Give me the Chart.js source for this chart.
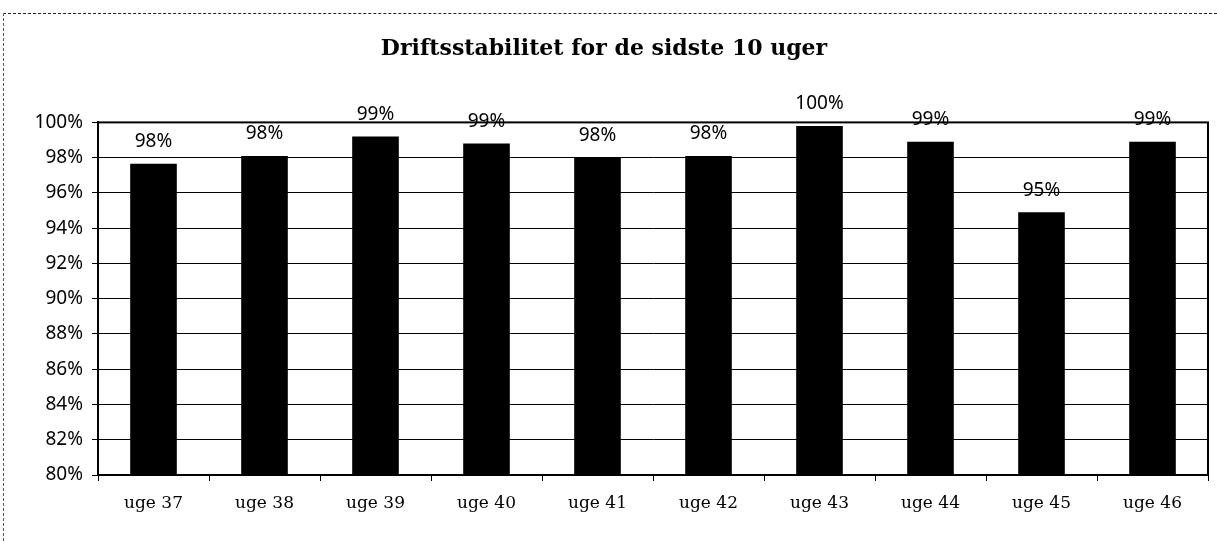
<!DOCTYPE html>
<html>
<head>
<meta charset="utf-8">
<script src="https://cdn.jsdelivr.net/npm/chart.js@4.4.1/dist/chart.umd.min.js"></script>
<style>
  html, body { margin: 0; padding: 0; background: #fff; }
  #wrap { position: relative; width: 1217px; height: 541px; }
  #frame { position: absolute; left: 3px; top: 13px; width: 1214px; height: 528px;
           border-top: 1px dashed #222; border-left: 1px dashed #555; box-sizing: border-box; pointer-events: none; }
  canvas { position: absolute; left: 0; top: 0; }
</style>
</head>
<body>
<div id="wrap">
  <canvas id="c" width="1217" height="541"></canvas>
  <div id="frame"></div>
</div>
<script>
const categories = ["uge 37", "uge 38", "uge 39", "uge 40", "uge 41", "uge 42", "uge 43", "uge 44", "uge 45", "uge 46"];
const stability = [97.65, 98.1, 99.2, 98.8, 98.0, 98.1, 99.8, 98.9, 94.9, 98.9];
const yMin = 80, yMax = 100, yStep = 2;
const titleText = "Driftsstabilitet for de sidste 10 uger";

const labelPlugin = {
  id: 'barLabels',
  afterDatasetsDraw(chart) {
    const ctx = chart.ctx;
    const meta = chart.getDatasetMeta(0);
    ctx.save();
    ctx.font = '19px "Noto Sans"';
    ctx.fillStyle = '#000';
    ctx.textAlign = 'center';
    ctx.textBaseline = 'middle';
    meta.data.forEach((bar, i) => {
      ctx.fillText(Math.round(stability[i]) + '%', bar.x, bar.y - 22);
    });
    ctx.restore();
  }
};
const borderPlugin = {
  id: 'plotBorder',
  afterDraw(chart) {
    const a = chart.chartArea, ctx = chart.ctx;
    ctx.save();
    ctx.strokeStyle = '#000';
    ctx.lineWidth = 2;
    ctx.strokeRect(a.left, a.top, a.right - a.left, a.bottom - a.top);
    ctx.restore();
  }
};

new Chart(document.getElementById('c'), {
  type: 'bar',
  data: {
    labels: categories,
    datasets: [{
      data: stability,
      backgroundColor: '#000',
      borderWidth: 0,
      categoryPercentage: 0.42,
      barPercentage: 1.0
    }]
  },
  options: {
    responsive: false,
    animation: false,
    devicePixelRatio: 1,
    layout: { padding: { left: 0, right: 9, top: 0, bottom: 0 } },
    plugins: {
      legend: { display: false },
      tooltip: { enabled: false },
      title: {
        display: true,
        text: titleText,
        color: '#000',
        font: { family: '"DejaVu Serif"', size: 22, weight: 'bold', lineHeight: 1.2 },
        padding: { top: 36, bottom: 60 }
      }
    },
    scales: {
      x: {
        grid: { display: true, drawOnChartArea: false, drawTicks: true, tickLength: 6, color: '#000', offset: true },
        border: { display: true, color: '#000', width: 2 },
        ticks: { color: '#000', font: { family: '"DejaVu Serif"', size: 17 }, padding: 12, maxRotation: 0 },
        afterFit(scale) { scale.height = 66; }
      },
      y: {
        min: yMin, max: yMax,
        grid: { color: '#000', lineWidth: 1, tickLength: 6 },
        border: { display: true, color: '#000', width: 2 },
        ticks: { stepSize: yStep, color: '#000', font: { family: '"Noto Sans"', size: 19 }, padding: 9,
                 callback: v => v + '%' },
        afterFit(scale) { scale.width = 98; }
      }
    }
  },
  plugins: [labelPlugin, borderPlugin]
});
</script>
</body>
</html>
